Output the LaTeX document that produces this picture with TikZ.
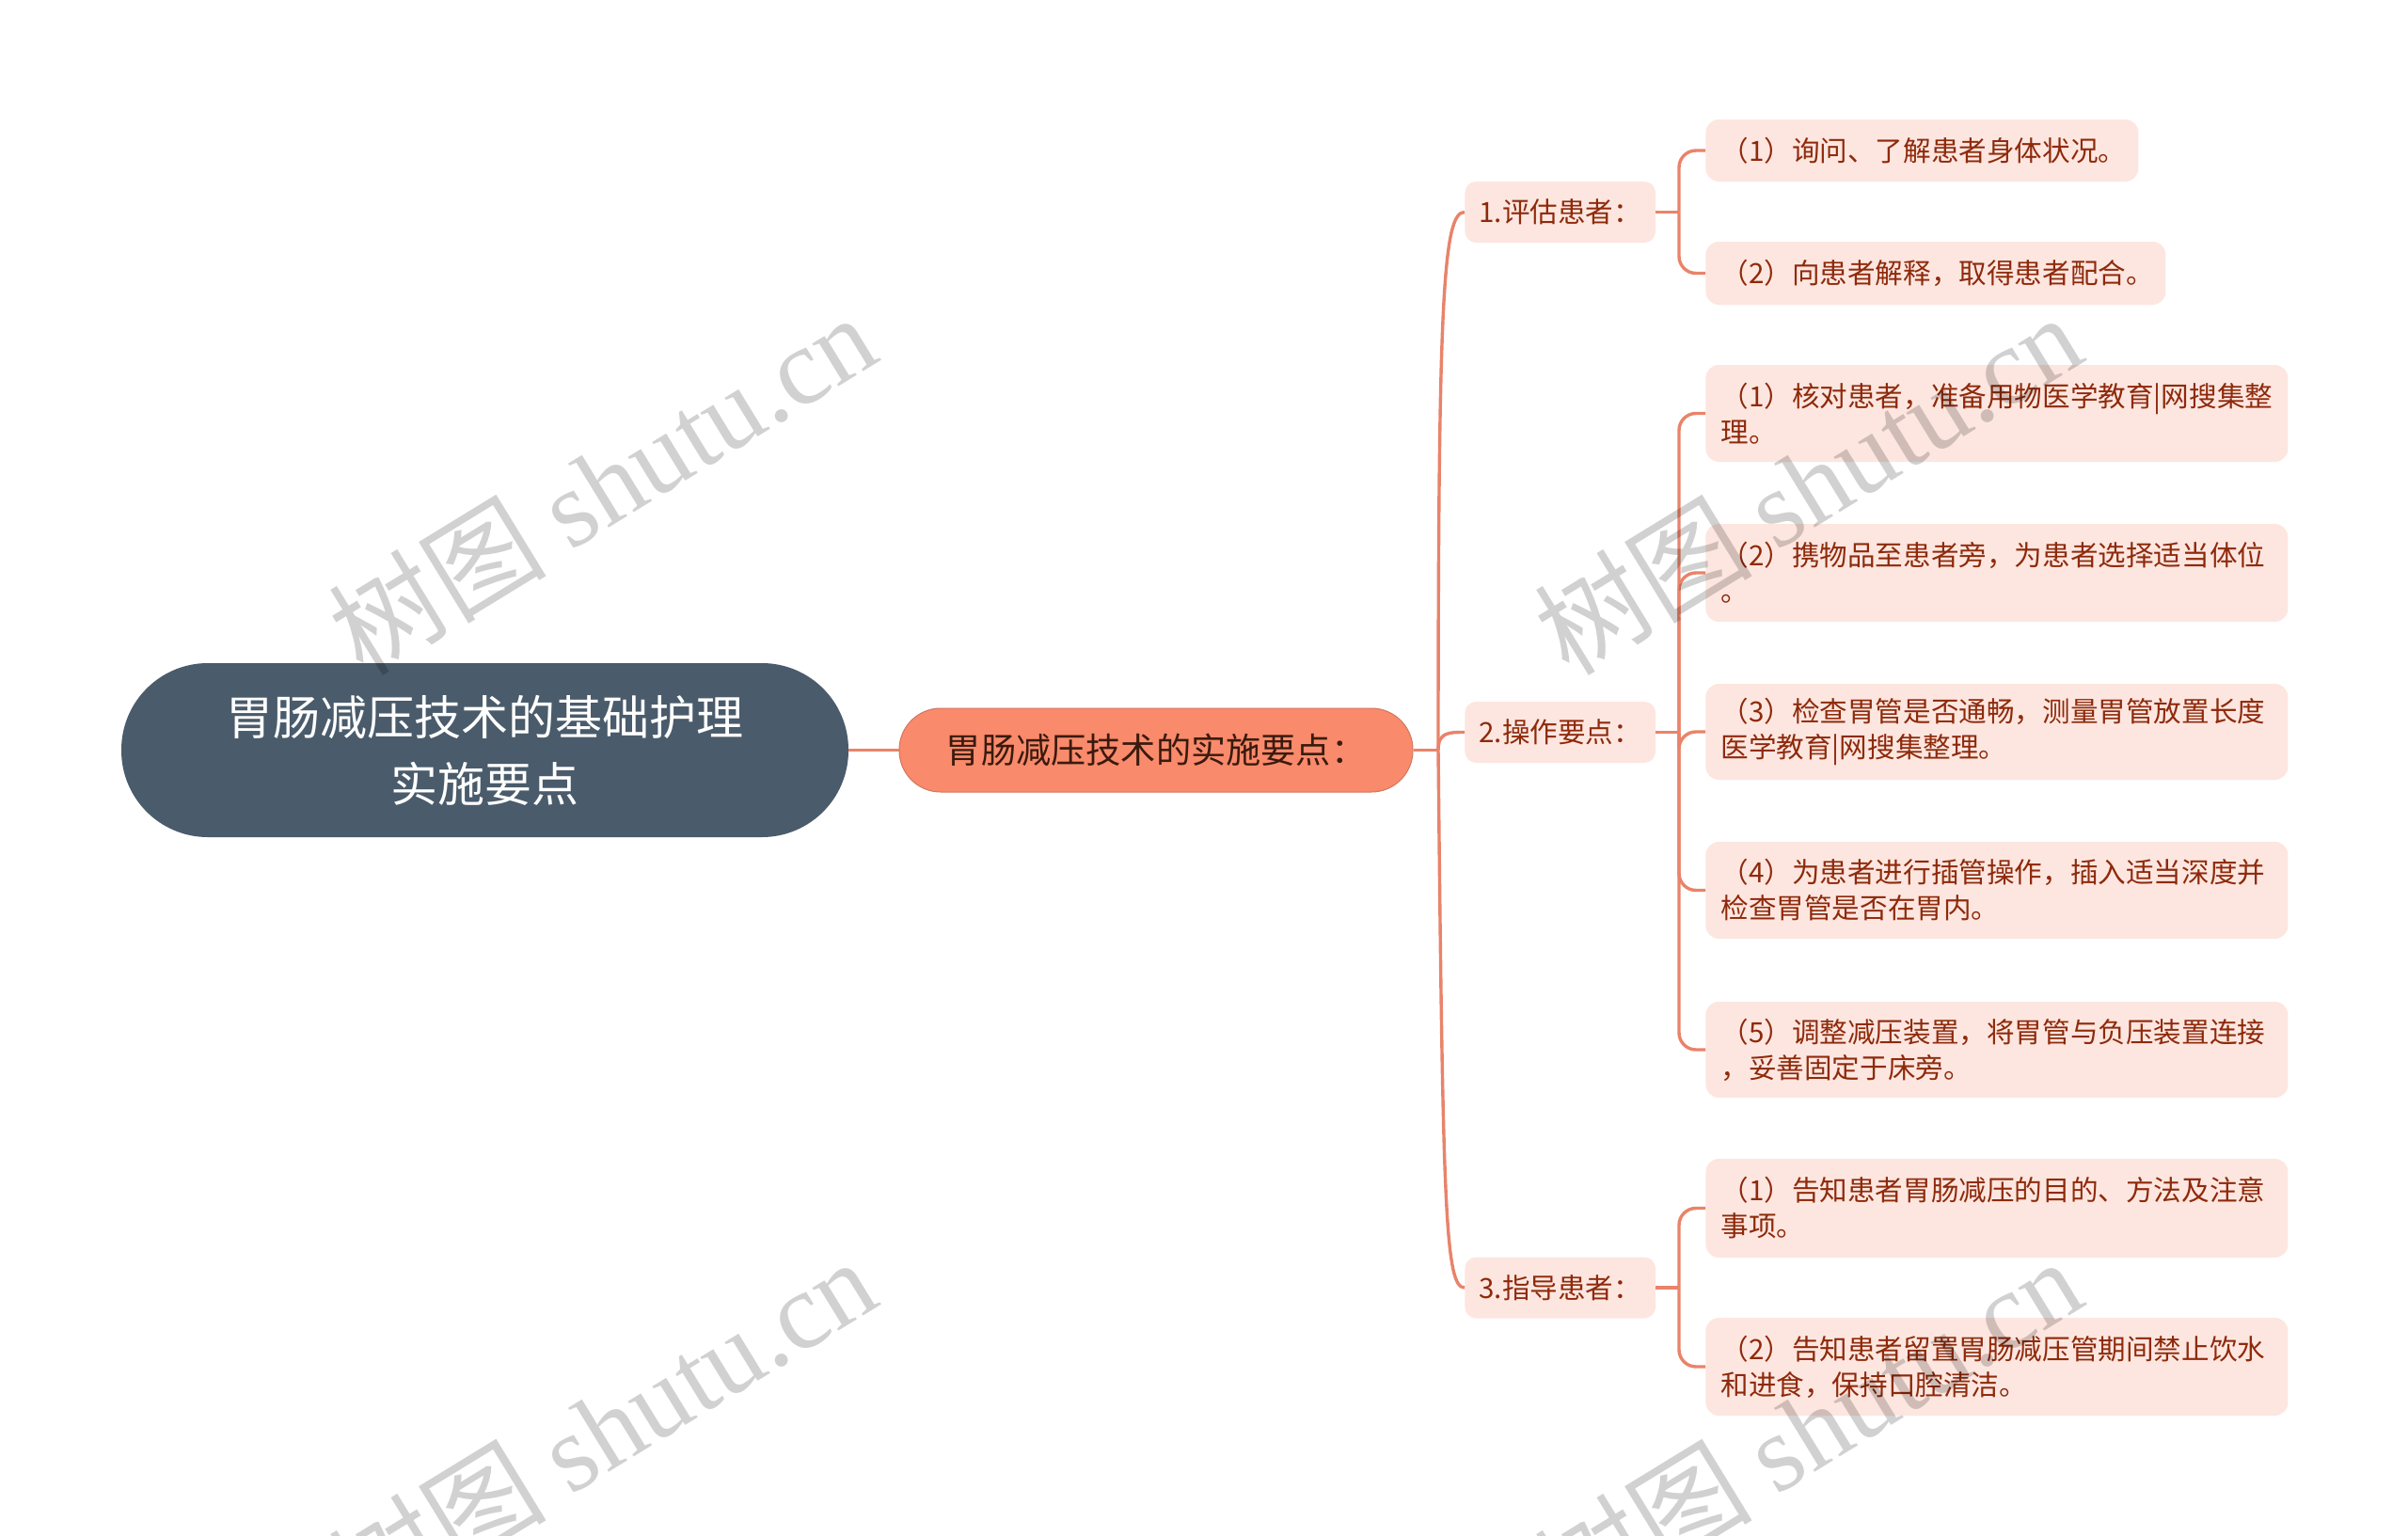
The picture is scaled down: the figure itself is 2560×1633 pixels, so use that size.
\documentclass[tikz,border=0pt]{standalone}
\usepackage{fontspec}
\setmainfont{Noto Sans CJK SC}
\newfontfamily\wmlatin{Liberation Serif}
\definecolor{rootfill}{HTML}{4A5B6B}
\definecolor{midfill}{HTML}{F98A6B}
\definecolor{midtext}{HTML}{3A1A0E}
\definecolor{leaffill}{HTML}{FDE6E0}
\definecolor{leaftext}{HTML}{8E2A0B}
\definecolor{linec}{HTML}{E9836A}
\begin{document}
\begin{tikzpicture}[x=0.5pt,y=-0.5pt,
  conn/.style={draw=linec, line width=1.7pt},
  rootbox/.style={fill=rootfill, text=white, rounded corners=46pt, minimum width=386.5pt, minimum height=92.5pt, align=center, inner sep=0pt, font=\fontsize{25pt}{35.5pt}\selectfont},
  midbox/.style={fill=midfill, draw=linec!90!black, line width=0.5pt, text=midtext, rounded corners=22pt, minimum width=273pt, minimum height=44.5pt, inner sep=0pt, font=\fontsize{18.6pt}{22pt}\selectfont},
  lvtwo/.style={fill=leaffill, text=leaftext, rounded corners=6pt, minimum width=100pt, minimum height=32.5pt, anchor=west, inner xsep=7.5pt, inner ysep=0pt, font=\fontsize{14.8pt}{19pt}\selectfont},
  leafbox/.style={fill=leaffill, text=leaftext, rounded corners=7pt, inner xsep=8pt, inner ysep=0pt, align=left, anchor=west, font=\fontsize{14.8pt}{19pt}\selectfont},
  wm/.style={text=black, text opacity=0.18, rotate=31.5, inner sep=0pt, font=\fontsize{58pt}{64pt}\selectfont}
]
\useasboundingbox (0,0) rectangle (2560,1633);
\clip (0,0) rectangle (2560,1633);
\fill[white] (0,0) rectangle (2560,1633);

% nodes
\node[rootbox] (root) at (515.5,797.5) {胃肠减压技术的基础护理\\实施要点};
\node[midbox] (mid) at (1229,797.5) {胃肠减压技术的实施要点：};

\node[lvtwo] (n1) at (1557,225.5) {1.评估患者：};
\node[lvtwo] (n2) at (1557,778.5) {2.操作要点：};
\node[lvtwo] (n3) at (1557,1369) {3.指导患者：};

\node[leafbox, text width=214pt, minimum height=33pt] (a1) at (1813,160) {（1）询问、了解患者身体状况。};
\node[leafbox, text width=228.5pt, minimum height=33.5pt] (a2) at (1813,290.5) {（2）向患者解释，取得患者配合。};

\node[leafbox, text width=293.5pt, minimum height=51.5pt] (b1) at (1813,439.5) {（1）核对患者，准备用物医学教育|网搜集整\\理。};
\node[leafbox, text width=293.5pt, minimum height=52pt] (b2) at (1813,609) {（2）携物品至患者旁，为患者选择适当体位\\。};
\node[leafbox, text width=293.5pt, minimum height=51pt] (b3) at (1813,778) {（3）检查胃管是否通畅，测量胃管放置长度\\医学教育|网搜集整理。};
\node[leafbox, text width=293.5pt, minimum height=51.5pt] (b4) at (1813,946.5) {（4）为患者进行插管操作，插入适当深度并\\检查胃管是否在胃内。};
\node[leafbox, text width=293.5pt, minimum height=51pt] (b5) at (1813,1116) {（5）调整减压装置，将胃管与负压装置连接\\，妥善固定于床旁。};

\node[leafbox, text width=293.5pt, minimum height=52.5pt] (c1) at (1813,1284.5) {（1）告知患者胃肠减压的目的、方法及注意\\事项。};
\node[leafbox, text width=293.5pt, minimum height=52pt] (c2) at (1813,1453) {（2）告知患者留置胃肠减压管期间禁止饮水\\和进食，保持口腔清洁。};

% connectors
\coordinate (J) at (1529,797.5);
\draw[conn] (root.east) -- (mid.west);
\draw[conn] (mid.east) -- (J);
\draw[conn] (J) .. controls (1529,320) and (1534,225.5) .. (n1.west);
\draw[conn] (J) .. controls (1529,778.5) and (1540,778.5) .. (n2.west);
\draw[conn] (J) .. controls (1534,1280) and (1536,1369) .. (n3.west);

\coordinate (K1) at (1785,225.5);
\coordinate (K2) at (1785,778.5);
\coordinate (K3) at (1785,1369);
\draw[conn] (n1.east) -- (K1);
\draw[conn] (n2.east) -- (K2);
\draw[conn] (n3.east) -- (K3);
\foreach \k/\l in {K1/a1,K1/a2,K2/b1,K2/b2,K2/b3,K2/b4,K2/b5,K3/c1,K3/c2}{
  \draw[conn, rounded corners=9pt] (\k) |- (\l.west);
}

% watermarks
\node[wm] (w1) at (640,514) {树图 {\wmlatin shutu.cn}};
\node[wm] (w2) at (1922,514) {树图 {\wmlatin shutu.cn}};
\node[wm] (w3) at (640,1518) {树图 {\wmlatin shutu.cn}};
\node[wm] (w4) at (1922,1518) {树图 {\wmlatin shutu.cn}};
\end{tikzpicture}
\end{document}
